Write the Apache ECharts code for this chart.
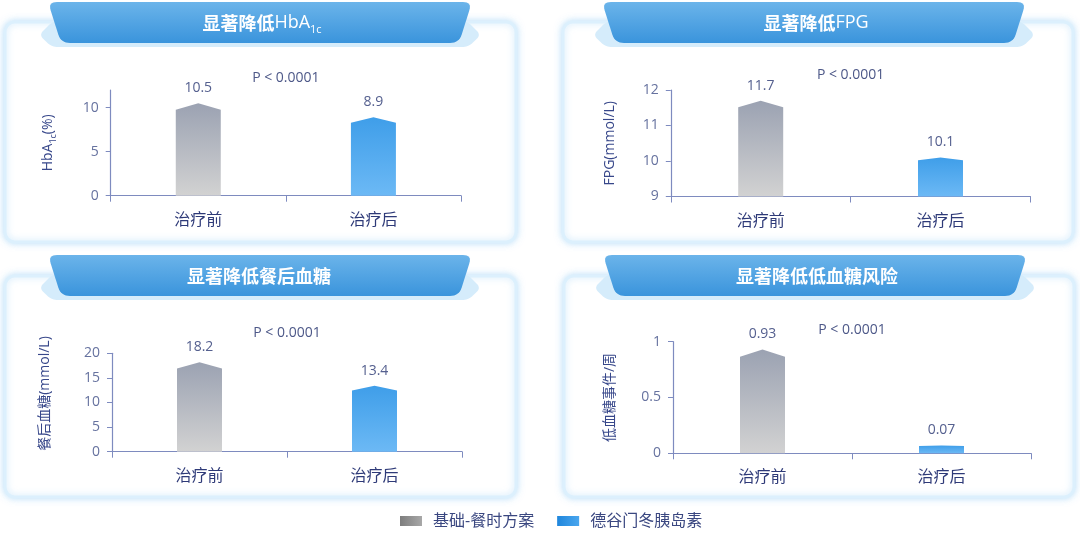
<!DOCTYPE html>
<html>
<head>
<meta charset="utf-8">
<script src="https://cdn.jsdelivr.net/npm/echarts@6/dist/echarts.min.js"></script>
<style>
html,body{margin:0;padding:0;background:#fff;}
#chart{width:1080px;height:535px;}
</style>
</head>
<body>
<div id="chart"></div>
<script>
// ---------- data ----------
const categories = ['治疗前', '治疗后'];
const seriesNames = ['基础-餐时方案', '德谷门冬胰岛素'];
const beforeValues = [10.5, 11.7, 18.2, 0.93];
const afterValues = [8.9, 10.1, 13.4, 0.07];
const yMins = [0, 9, 0, 0];
const yMaxs = [12, 12, 20, 1];
const yIntervals = [5, 1, 5, 0.5];
const yTickValues = [[0, 5, 10], [9, 10, 11, 12], [0, 5, 10, 15, 20], [0, 0.5, 1]];
const pValueText = 'P < 0.0001';
const panelTitles = [
  '{a|显著降低}{b|HbA}{c|1c}',
  '{a|显著降低}{b|FPG}',
  '{a|显著降低餐后血糖}',
  '{a|显著降低低血糖风险}'
];
const yAxisNames = [
  '{a|HbA}{s|1c}{a|(%)}',
  '{a|FPG(mmol/L)}',
  '{a|餐后血糖(mmol/L)}',
  '{a|低血糖事件/周}'
];

// ---------- layout ----------
const FONT = "'Open Sans','Noto Sans CJK SC',sans-serif";
const CJK = "'Noto Sans CJK SC','Noto Sans',sans-serif";
const grids = [
  {left: 110.7, top: 90, width: 350.3, height: 105.7},
  {left: 670.8, top: 90, width: 359.6, height: 106.5},
  {left: 112, top: 353.3, width: 350, height: 98.4},
  {left: 673, top: 341.7, width: 358, height: 111.6}
];
const nameGaps = [53, 51, 57, 53];
const namePads = [[0, 0, 0, 0], [0, 0, 0, 0], [0, 0, 0, 18], [0, 0, 0, 0]];
const pOffsets = [12, 15, 20, 12];
const cards = [
  {x: 5, y: 22, w: 511, h: 220},
  {x: 563, y: 22, w: 510, h: 220},
  {x: 5, y: 276, w: 511, h: 221},
  {x: 564, y: 276, w: 510, h: 221}
];
const banners = [
  {L: 48, T: 2}, {L: 602, T: 2}, {L: 48, T: 255}, {L: 603, T: 255}
];
const titleCenters = [262, 816, 259, 817];
const BW = 424, BH = 41;

// polygon with rounded corners, sampled into points
function roundedPoly(pts, r) {
  const out = [];
  const n = pts.length;
  for (let i = 0; i < n; i++) {
    const c = pts[i], pr = pts[(i - 1 + n) % n], nx = pts[(i + 1) % n];
    const d1 = Math.hypot(pr[0] - c[0], pr[1] - c[1]);
    const d2 = Math.hypot(nx[0] - c[0], nx[1] - c[1]);
    const rr1 = Math.min(r, d1 / 2), rr2 = Math.min(r, d2 / 2);
    const a = [c[0] + (pr[0] - c[0]) / d1 * rr1, c[1] + (pr[1] - c[1]) / d1 * rr1];
    const b = [c[0] + (nx[0] - c[0]) / d2 * rr2, c[1] + (nx[1] - c[1]) / d2 * rr2];
    const steps = 8;
    for (let k = 0; k <= steps; k++) {
      const t = k / steps, u = 1 - t;
      out.push([u * u * a[0] + 2 * u * t * c[0] + t * t * b[0],
                u * u * a[1] + 2 * u * t * c[1] + t * t * b[1]]);
    }
  }
  return out;
}

const graphics = [];
cards.forEach(c => {
  graphics.push({
    type: 'rect', z: 0,
    shape: {x: c.x, y: c.y, width: c.w, height: c.h, r: 10},
    style: {fill: '#fff', stroke: '#dcf0fd', lineWidth: 3,
      shadowBlur: 7, shadowColor: 'rgba(150,205,245,0.55)'}
  });
});
banners.forEach((b, i) => {
  const L = b.L, T = b.T;
  graphics.push({
    type: 'polygon', z: 1,
    shape: {points: roundedPoly([[L - 9, T + 33], [L + 5, T + 19], [L + BW - 5, T + 19], [L + BW + 9, T + 33], [L + BW - 4, T + 45], [L + 4, T + 45]], 6)},
    style: {fill: '#d5ecfb'}
  });
  graphics.push({
    type: 'polygon', z: 2,
    shape: {points: roundedPoly([[L, T], [L + BW, T], [L + BW - 13, T + BH], [L + 13, T + BH]], 9)},
    style: {fill: new echarts.graphic.LinearGradient(0, 0, 0, 1, [
      {offset: 0, color: '#6bb4ea'}, {offset: 1, color: '#3a94dc'}])}
  });
  graphics.push({
    type: 'text', z: 3,
    x: titleCenters[i], y: T + 21,
    style: {
      text: panelTitles[i], align: 'center', verticalAlign: 'middle',
      rich: {
        a: {fontSize: 18, fontWeight: 'bold', fill: '#fff', fontFamily: CJK, lineHeight: 24},
        b: {fontSize: 18, fontWeight: 'normal', fill: '#fff', fontFamily: FONT, lineHeight: 24},
        c: {fontSize: 11, fontWeight: 'normal', fill: '#fff', fontFamily: FONT, lineHeight: 12, verticalAlign: 'bottom'}
      }
    }
  });
});
grids.forEach((g, i) => {
  graphics.push({
    type: 'text', z: 3,
    x: g.left + g.width / 2, y: g.top - pOffsets[i],
    style: {text: pValueText, align: 'center', verticalAlign: 'middle',
      font: '14px ' + FONT, fill: '#4d5888'}
  });
});

const grayGrad = new echarts.graphic.LinearGradient(0, 0, 0, 1, [
  {offset: 0, color: '#9ba2b2'}, {offset: 1, color: '#d2d2d2'}]);
const blueGrad = new echarts.graphic.LinearGradient(0, 0, 0, 1, [
  {offset: 0, color: '#3f9ee9'}, {offset: 1, color: '#6cb9f5'}]);
const grayLegend = new echarts.graphic.LinearGradient(0, 0, 1, 0, [
  {offset: 0, color: '#7d7d7d'}, {offset: 1, color: '#a8a8a8'}]);
const blueLegend = new echarts.graphic.LinearGradient(0, 0, 1, 0, [
  {offset: 0, color: '#1f86dc'}, {offset: 1, color: '#4aa6ee'}]);

function renderBar(fill) {
  return function (params, api) {
    const cat = api.value(0), val = api.value(1);
    const top = api.coord([cat, val]);
    const cs = params.coordSys;
    const baseY = cs.y + cs.height;
    const w = 45;
    const h = baseY - top[1];
    const drop = h * 0.07;
    const x0 = top[0] - w / 2, x1 = top[0] + w / 2;
    return {
      type: 'group',
      children: [
        {type: 'polygon',
          shape: {points: [[x0, baseY], [x0, top[1] + drop], [top[0], top[1]], [x1, top[1] + drop], [x1, baseY]]},
          style: {fill: fill}},
        {type: 'text', x: top[0], y: top[1] - 15,
          style: {text: String(val), align: 'center', verticalAlign: 'middle',
            font: '14px ' + FONT, fill: '#55608f'}}
      ]
    };
  };
}

const xAxes = [], yAxes = [], series = [];
grids.forEach((g, i) => {
  xAxes.push({
    type: 'category', gridIndex: i, data: categories, boundaryGap: true,
    axisLine: {lineStyle: {color: '#7e8bbf', width: 1.2}},
    axisTick: {show: true, length: 6, lineStyle: {color: '#7e8bbf'}},
    axisLabel: {color: '#2e3a78', fontSize: 16, margin: 15, fontFamily: CJK}
  });
  yAxes.push({
    type: 'value', gridIndex: i, min: yMins[i], max: yMaxs[i], interval: yIntervals[i],
    name: yAxisNames[i], nameLocation: 'middle', nameGap: nameGaps[i],
    nameTextStyle: {
      padding: namePads[i],
      rich: {
        a: {fontSize: 14, color: '#37478a', fontFamily: FONT, lineHeight: 20},
        s: {fontSize: 9, color: '#37478a', fontFamily: FONT, lineHeight: 10, verticalAlign: 'bottom'}
      }
    },
    splitLine: {show: false},
    axisLine: {show: true, lineStyle: {color: '#7e8bbf', width: 1.2}},
    axisTick: {show: true, length: 5, customValues: yTickValues[i], lineStyle: {color: '#7e8bbf'}},
    axisLabel: {color: '#66729f', fontSize: 14, margin: 12, fontFamily: FONT, customValues: yTickValues[i]}
  });
  series.push({
    type: 'custom', name: seriesNames[0], xAxisIndex: i, yAxisIndex: i,
    renderItem: renderBar(grayGrad),
    itemStyle: {color: grayLegend},
    encode: {x: 0, y: 1},
    data: [[0, beforeValues[i]]]
  });
  series.push({
    type: 'custom', name: seriesNames[1], xAxisIndex: i, yAxisIndex: i,
    renderItem: renderBar(blueGrad),
    itemStyle: {color: blueLegend},
    encode: {x: 0, y: 1},
    data: [[1, afterValues[i]]]
  });
});

const chart = echarts.init(document.getElementById('chart'), null, {renderer: 'canvas'});
chart.setOption({
  backgroundColor: '#fff',
  animation: false,
  graphic: graphics,
  legend: {
    data: seriesNames,
    left: 400, top: 513,
    itemWidth: 22, itemHeight: 10, itemGap: 23,
    icon: 'rect',
    padding: 0,
    textStyle: {fontSize: 16, color: '#3a4780', fontFamily: FONT, padding: [0, 0, 0, 6]}
  },
  grid: grids.map(g => Object.assign({containLabel: false}, g)),
  xAxis: xAxes,
  yAxis: yAxes,
  series: series
});
</script>
</body>
</html>
